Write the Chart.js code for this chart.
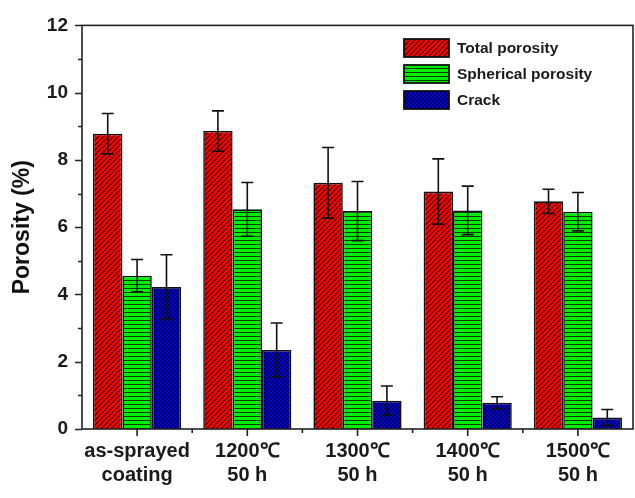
<!DOCTYPE html>
<html>
<head>
<meta charset="utf-8">
<script src="https://cdn.jsdelivr.net/npm/chart.js@4.4.1/dist/chart.umd.min.js"></script>
<style>
  html, body { margin: 0; padding: 0; background: #fff; }
  #wrap { width: 635px; height: 498px; }
</style>
</head>
<body>
<div id="wrap"><canvas id="myChart" width="635" height="498"></canvas></div>
<script>
const categories = [["as-sprayed", "coating"], ["1200\u2103", "50 h"], ["1300\u2103", "50 h"], ["1400\u2103", "50 h"], ["1500\u2103", "50 h"]];
const seriesNames = ["Total porosity", "Spherical porosity", "Crack"];

const totalPorosity = [8.78, 8.86, 7.32, 7.06, 6.77];
const totalErr = [0.6, 0.6, 1.05, 0.97, 0.36];
const sphericalPorosity = [4.56, 6.53, 6.48, 6.5, 6.46];
const sphericalErr = [0.48, 0.8, 0.88, 0.72, 0.57];
const crack = [4.22, 2.35, 0.84, 0.78, 0.34];
const crackErr = [0.96, 0.8, 0.44, 0.18, 0.24];

const yTicks = [0, 2, 4, 6, 8, 10, 12];

// hatch patterns
function makePattern(kind) {
  const c = document.createElement("canvas");
  const s = kind === "diag" ? 5 : 4;
  c.width = s;
  c.height = s;
  const g = c.getContext("2d");
  if (kind === "diag") {
    g.fillStyle = "#ff0000";
    g.fillRect(0, 0, s, s);
    g.strokeStyle = "#300";
    g.lineWidth = 1.1;
    g.beginPath();
    g.moveTo(-1, s + 1); g.lineTo(s + 1, -1);
    g.moveTo(-1, 1); g.lineTo(1, -1);
    g.moveTo(s - 1, s + 1); g.lineTo(s + 1, s - 1);
    g.stroke();
  } else if (kind === "horiz") {
    g.fillStyle = "#00ee00";
    g.fillRect(0, 0, s, s);
    g.fillStyle = "#0a3a0a";
    g.fillRect(0, 0, s, 1);
  } else {
    g.fillStyle = "#0000dd";
    g.fillRect(0, 0, s, s);
    g.fillStyle = "#000055";
    g.fillRect(0, 0, 2, 2);
    g.fillRect(2, 2, 2, 2);
  }
  return g.createPattern(c, "repeat");
}

const fills = [makePattern("diag"), makePattern("horiz"), makePattern("cross")];
const errs = [totalErr, sphericalErr, crackErr];

const FONT = "'Liberation Sans', Arial, sans-serif";

// error bars, tick marks, frame and legend
const decorPlugin = {
  id: "decor",
  afterDatasetsDraw(chart) {
    const ctx = chart.ctx;
    const y = chart.scales.y;
    ctx.save();
    ctx.strokeStyle = "#111";
    ctx.lineWidth = 1.6;
    chart.data.datasets.forEach((ds, i) => {
      const meta = chart.getDatasetMeta(i);
      meta.data.forEach((bar, j) => {
        const v = ds.data[j];
        const e = errs[i][j];
        const yt = y.getPixelForValue(v + e);
        const yb = y.getPixelForValue(Math.max(0, v - e));
        ctx.beginPath();
        ctx.moveTo(bar.x, yt); ctx.lineTo(bar.x, yb);
        ctx.moveTo(bar.x - 6, yt); ctx.lineTo(bar.x + 6, yt);
        ctx.moveTo(bar.x - 6, yb); ctx.lineTo(bar.x + 6, yb);
        ctx.stroke();
      });
    });
    ctx.restore();
  },
  afterDraw(chart) {
    const ctx = chart.ctx;
    const a = chart.chartArea;
    const x = chart.scales.x;
    const y = chart.scales.y;
    ctx.save();
    ctx.strokeStyle = "#222";
    ctx.lineWidth = 1.6;
    ctx.strokeRect(a.left, a.top, a.right - a.left, a.bottom - a.top);
    ctx.beginPath();
    for (let v = y.min; v <= y.max; v++) {
      const py = Math.round(y.getPixelForValue(v)) + 0.5;
      const len = v % 2 === 0 ? 7 : 4;
      ctx.moveTo(a.left, py); ctx.lineTo(a.left - len, py);
    }
    const n = chart.data.labels.length;
    const step = (a.right - a.left) / n;
    for (let i = 0; i < n; i++) {
      const px = x.getPixelForValue(i);
      ctx.moveTo(px, a.bottom); ctx.lineTo(px, a.bottom + 7);
      if (i > 0) {
        const bx = px - step / 2;
        ctx.moveTo(bx, a.bottom); ctx.lineTo(bx, a.bottom + 4);
      }
    }
    ctx.stroke();

    // legend
    const lx = 404, ly0 = 39, gap = 26;
    chart.data.datasets.forEach((ds, i) => {
      const ly = ly0 + i * gap;
      ctx.fillStyle = ds.backgroundColor;
      ctx.fillRect(lx, ly, 45, 18);
      ctx.lineWidth = 1.8;
      ctx.strokeStyle = "#111";
      ctx.strokeRect(lx, ly, 45, 18);
      ctx.fillStyle = "#1a1a1a";
      ctx.font = "bold 15.5px " + FONT;
      ctx.textBaseline = "middle";
      ctx.fillText(ds.label, lx + 53, ly + 9.5);
    });
    ctx.restore();
  }
};

const ctx = document.getElementById("myChart").getContext("2d");
const myChart = new Chart(ctx, {
  type: "bar",
  data: {
    labels: categories,
    datasets: [
      { label: seriesNames[0], data: totalPorosity },
      { label: seriesNames[1], data: sphericalPorosity },
      { label: seriesNames[2], data: crack }
    ].map((d, i) => Object.assign(d, {
      backgroundColor: fills[i],
      borderColor: "#111",
      borderWidth: 1.6,
      borderSkipped: "bottom",
      categoryPercentage: 0.8,
      barPercentage: 1.0
    }))
  },
  options: {
    responsive: false,
    animation: false,
    events: [],
    layout: { padding: { top: 17, right: 2, left: 0, bottom: 0 } },
    plugins: {
      legend: { display: false },
      tooltip: { enabled: false }
    },
    scales: {
      x: {
        grid: { display: false, drawTicks: false },
        border: { display: false },
        ticks: {
          color: "#1a1a1a",
          padding: 10,
          maxRotation: 0,
          font: { family: FONT, size: 20, weight: "bold", lineHeight: 1.2 }
        },
        afterFit(scale) { scale.height = 69; }
      },
      y: {
        min: 0,
        max: 12,
        afterBuildTicks(scale) { scale.ticks = yTicks.map(v => ({ value: v })); },
        grid: { display: false, drawTicks: false },
        border: { display: false },
        ticks: {
          color: "#1a1a1a",
          padding: 14,
          font: { family: FONT, size: 19, weight: "bold" }
        },
        title: {
          display: true,
          text: "Porosity (%)",
          color: "#111",
          padding: { top: 9, bottom: 0 },
          font: { family: FONT, size: 23, weight: "bold" }
        },
        afterFit(scale) { scale.width = 82; }
      }
    }
  },
  plugins: [decorPlugin]
});
</script>
</body>
</html>
